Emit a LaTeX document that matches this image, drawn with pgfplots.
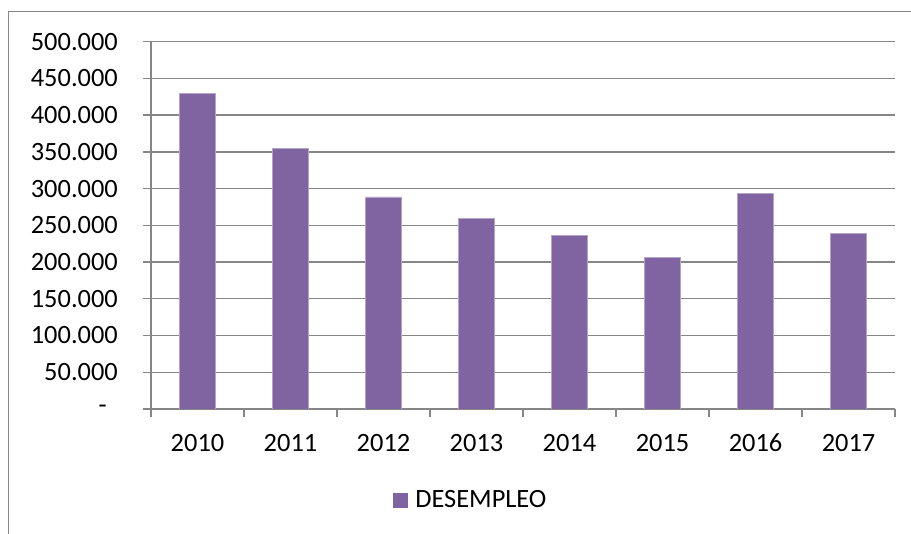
\documentclass[border=0pt]{standalone}
\usepackage{fontspec}
\setmainfont{Carlito}
\usepackage{pgfplots}
\pgfplotsset{compat=1.18}
\definecolor{barc}{RGB}{128,100,162}
\definecolor{bare}{RGB}{180,165,200}
\definecolor{gridc}{RGB}{134,134,134}
\begin{document}
\begin{tikzpicture}[x=1bp,y=1bp]
\useasboundingbox (0,0) rectangle (911,534);
\draw[gridc, line width=1.2bp] (8.3,0) -- (8.3,522.3) -- (911,522.3);
\begin{axis}[
  at={(151bp,125bp)}, anchor=south west,
  scale only axis, width=744bp, height=367.3bp,
  xmin=-0.5, xmax=7.5, ymin=0, ymax=500000,
  axis x line*=bottom, axis y line*=left,
  axis line style={gridc, line width=1.3bp},
  ybar, bar width=36bp,
  xtick={-0.5,0.5,...,7.5}, x tick label as interval,
  xticklabels={2010,2011,2012,2013,2014,2015,2016,2017},
  ytick={0,50000,...,500000},
  yticklabels={{-\hspace*{11bp}},50.000,100.000,150.000,200.000,250.000,300.000,350.000,400.000,450.000,500.000},
  scaled y ticks=false,
  /pgf/number format/assume math mode=true,
  ymajorgrids, grid style={gridc, line width=1.3bp},
  tick align=outside, major tick length=8bp,
  tick style={gridc, line width=1.3bp},
  ticklabel style={font=\fontsize{26.5}{31}\selectfont, text=black},
  yticklabel style={anchor=east, inner sep=0pt, xshift=-25bp},
  xticklabel style={yshift=-13bp, text height=18bp, text depth=0pt},
  legend style={at={(0.4294,-0.2478)}, anchor=center, draw=none,
    font=\fontsize{26.5}{31}\selectfont, inner sep=0pt},
  legend image code/.code={\fill[barc] (0bp,-7bp) rectangle (14bp,7bp);},
]
\addplot[fill=barc, draw=bare, line width=0.8bp] coordinates {
(0,429600) (1,355000) (2,288600) (3,259500) (4,236000) (5,206000) (6,294000) (7,238700)};
\addlegendentry{\hspace*{6bp}DESEMPLEO}
\end{axis}
\end{tikzpicture}
\end{document}
